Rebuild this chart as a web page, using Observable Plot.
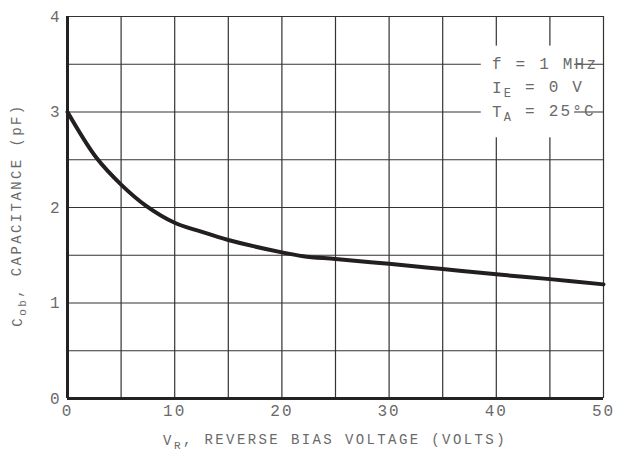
<!DOCTYPE html>
<html><head><meta charset="utf-8">
<script src="https://cdn.jsdelivr.net/npm/d3@7"></script>
<script src="https://cdn.jsdelivr.net/npm/@observablehq/plot@0.6"></script>
<style>
body{margin:0;background:#fff}
svg{display:block}
</style>
</head><body><div id="chart"></div>
<script>
// Data
const voltage = [0, 2.7, 5, 7.3, 10, 12.4, 15, 20, 22, 25, 30, 35, 40, 45, 50];
const capacitance = [3.0, 2.52, 2.24, 2.02, 1.84, 1.75, 1.66, 1.53, 1.49, 1.46, 1.41, 1.355, 1.30, 1.25, 1.195];
const xTicks = [0, 10, 20, 30, 40, 50];
const yTicks = [0, 1, 2, 3, 4];
const xGrid = [5, 10, 15, 20, 25, 30, 35, 40, 45, 50];
const yGrid = [0.5, 1, 1.5, 2, 2.5, 3, 3.5, 4];
// annotation lines: segments alternate normal / subscript
const noteLines = [["f = 1 MHz"], ["I", "E", " = 0 V"], ["T", "A", " = 25°C"]];
const noteY = [3.5, 3.25, 3.0];
const noteX = 39.6;
const noteBox = {x1: 38.6, x2: 47.3, y1: 2.73, y2: 3.69};
const xTitle = ["V", "R", ", REVERSE BIAS VOLTAGE (VOLTS)"];
const yTitle = ["C", "ob", ", CAPACITANCE (pF)"];

const curve = voltage.map((v, i) => ({v, c: capacitance[i]}));
const notes = noteLines.map((parts, i) => ({parts, x: noteX, y: noteY[i], t: parts.join("")}));

const W = 619, H = 455, ML = 67, MR = 16, MT = 16, MB = 57;
const FONT = "'Liberation Mono', 'DejaVu Sans Mono', monospace";
const TXT = "#6a6a6a";

const plot = Plot.plot({
  width: W, height: H,
  marginLeft: ML, marginRight: MR, marginTop: MT, marginBottom: MB,
  style: {fontFamily: FONT, fontSize: "16px", color: TXT, background: "#fff", letterSpacing: "2px"},
  x: {domain: [0, 50]},
  y: {domain: [0, 4]},
  marks: [
    Plot.ruleX(xGrid, {stroke: "#333", strokeWidth: 1.2}),
    Plot.ruleY(yGrid, {stroke: "#333", strokeWidth: 1.2}),
    Plot.rect([noteBox], {x1: "x1", x2: "x2", y1: "y1", y2: "y2", fill: "#fff"}),
    Plot.ruleX([0], {stroke: "#222", strokeWidth: 3}),
    Plot.ruleY([0], {stroke: "#222", strokeWidth: 3}),
    Plot.line(curve, {x: "v", y: "c", stroke: "#231f20", strokeWidth: 4, curve: "catmull-rom"}),
    Plot.text(notes, {x: "x", y: "y", text: "t", textAnchor: "start", fill: TXT, fontSize: 16, className: "note"}),
    Plot.axisX({ticks: xTicks, tickSize: 0, tickPadding: 6, tickFormat: "d", label: null}),
    Plot.axisY({ticks: yTicks, tickSize: 0, tickPadding: 6, tickFormat: "d", label: null})
  ]
});

const svg = d3.select(plot);
svg.selectAll("g.note text").attr("letter-spacing", "2.2px");
// rebuild annotation text with subscripts
svg.selectAll("g.note text").each(function(d, i) {
  const el = d3.select(this);
  const parts = notes[i].parts;
  el.text(null);
  parts.forEach((p, k) => {
    const ts = el.append("tspan").text(p);
    if (k % 2 === 1) ts.attr("dy", "0.35em").attr("font-size", "12px");
    else if (k > 0) ts.attr("dy", "-0.35em");
  });
});

function addTitle(parts, attrs) {
  const t = svg.append("text")
    .attr("fill", TXT).attr("font-size", 14).attr("font-family", FONT)
    .attr("letter-spacing", "2.4px").attr("text-anchor", "middle");
  Object.entries(attrs).forEach(([k, v]) => t.attr(k, v));
  parts.forEach((p, k) => {
    const ts = t.append("tspan").text(p);
    if (k % 2 === 1) ts.attr("dy", "0.35em").attr("font-size", "11px");
    else if (k > 0) ts.attr("dy", "-0.35em");
  });
}
addTitle(xTitle, {x: ML + (W - ML - MR) / 2, y: 445});
addTitle(yTitle, {transform: `translate(22,${MT + (H - MT - MB) / 2 + 8}) rotate(-90)`});

document.getElementById("chart").appendChild(plot);
</script>
</body></html>
